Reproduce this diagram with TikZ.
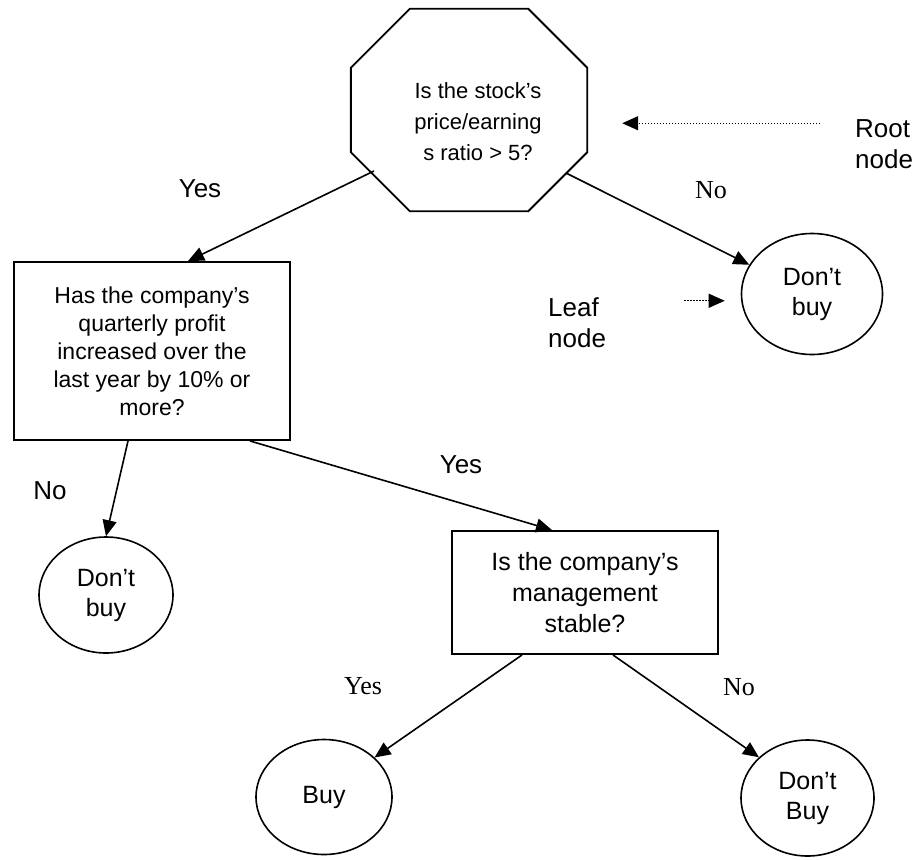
\documentclass[tikz,border=0pt]{standalone}
\usepackage{fontspec}
\setmainfont{Liberation Sans}
\newfontfamily\timesfont{Liberation Serif}
\usetikzlibrary{arrows.meta,shapes.geometric}

\begin{document}
\begin{tikzpicture}[x=1pt, y=-1pt, >={Triangle[length=16pt,width=14pt]},
    question/.style={draw, line width=1.9pt, align=center, inner sep=0pt},
    outcome/.style={draw, ellipse, line width=1.6pt, align=center, inner sep=0pt,
      font=\fontsize{25}{30}\selectfont},
    branch/.style={->, line width=1.6pt},
    pointer/.style={->, line width=1.4pt, dash pattern=on 1.4pt off 1.6pt},
    answer/.style={font=\fontsize{26}{31}\selectfont},
    answerserif/.style={font=\timesfont\fontsize{26}{31}\selectfont}]
  \useasboundingbox (0,0) rectangle (917,859);

  % Questions
  \node[inner sep=0pt, minimum width=236pt, minimum height=202pt,
    label={[font=\fontsize{22}{31}\selectfont, align=center, xshift=9pt, yshift=-11.5pt]center:Is the stock’s\\price/earning\\s ratio > 5?}]
    (root) at (469,110) {};
  \draw[line width=1.9pt] ([xshift=59pt]root.north west) -- ([xshift=-59pt]root.north east)
    -- ([yshift=-59pt]root.north east) -- ([yshift=59pt]root.south east)
    -- ([xshift=-59pt]root.south east) -- ([xshift=59pt]root.south west)
    -- ([yshift=59pt]root.south west) -- ([yshift=-59pt]root.north west) -- cycle;
  \node[question, minimum width=276pt, minimum height=178pt, font=\fontsize{23}{28}\selectfont]
    (profit) at (152,351) {Has the company’s\\quarterly profit\\increased over the\\last year by 10\% or\\more?};
  \node[question, minimum width=266pt, minimum height=123pt, font=\fontsize{25}{31}\selectfont]
    (mgmt) at (585,592.5) {Is the company’s\\management\\stable?};

  % Leaves
  \node[outcome, minimum width=141pt, minimum height=121pt] (dontbuyA) at (812,294) {Don’t\\buy};
  \node[outcome, minimum width=134pt, minimum height=116pt] (dontbuyB) at (106,595) {Don’t\\buy};
  \node[outcome, minimum width=136pt, minimum height=115pt] (buy) at (324,797) {Buy};
  \node[outcome, minimum width=133pt, minimum height=116pt] (dontbuyC) at (807.5,798) {Don’t\\Buy};

  % Branches
  \draw[branch] ([xshift=-95pt,yshift=-61pt]root.center) -- ([xshift=36pt]profit.north);
  \draw[branch] ([xshift=97pt,yshift=-63pt]root.center) -- (dontbuyA.155);
  \draw[branch] ([xshift=-24pt]profit.south) -- (dontbuyB.north);
  \draw[branch] ([xshift=98pt]profit.south) -- ([xshift=-33pt]mgmt.north);
  \draw[branch] ([xshift=-63pt]mgmt.south) -- (buy.38);
  \draw[branch] ([xshift=28pt]mgmt.south) -- (dontbuyC.140);

  % Branch labels
  \node[answer] (yesA) at (200,189) {Yes};
  \node[answerserif] (noA) at (711,190) {No};
  \node[answer] (noB) at (50,491) {No};
  \node[answer] (yesB) at (461,465) {Yes};
  \node[answerserif] (yesC) at (363,686) {Yes};
  \node[answerserif] (noC) at (739,687) {No};

  % Notes
  \node[answer, align=left, anchor=west, inner sep=0pt] (rootnote) at (855,144) {Root\\node};
  \node[answer, align=left, anchor=west, inner sep=0pt] (leafnote) at (548,323) {Leaf\\node};
  \coordinate (rootfrom) at ([xshift=-35pt,yshift=-4pt]rootnote.north west);
  \coordinate (leaffrom) at ([xshift=78pt,yshift=-3pt]leafnote.north east);
  \draw[pointer] (rootfrom) -- ([xshift=35pt]root.east |- rootfrom);
  \draw[pointer] (leaffrom) -- ([xshift=-16pt]dontbuyA.west |- leaffrom);
\end{tikzpicture}
\end{document}
